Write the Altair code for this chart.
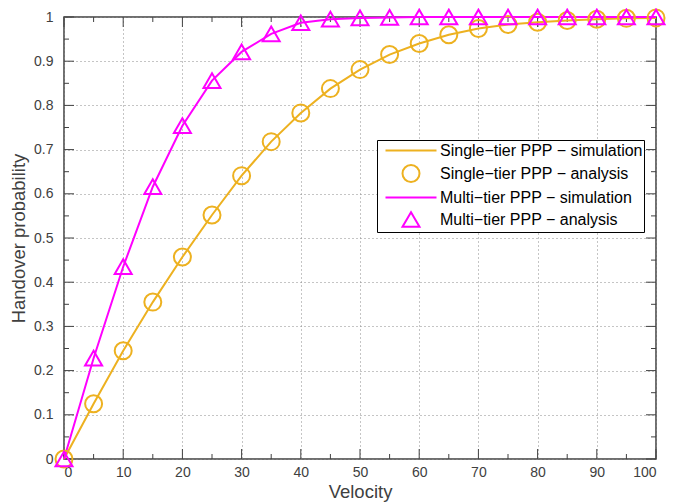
import altair as alt
import pandas as pd

velocity = [0, 5, 10, 15, 20, 25, 30, 35, 40, 45, 50, 55, 60, 65, 70, 75, 80, 85, 90, 95, 100]
single_sim = [0, 0.125, 0.245, 0.355, 0.457, 0.552, 0.641, 0.718, 0.783, 0.838, 0.881,
              0.915, 0.940, 0.960, 0.974, 0.983, 0.988, 0.992, 0.995, 0.997, 0.998]
single_ana = [0, 0.125, 0.245, 0.355, 0.457, 0.552, 0.641, 0.718, 0.783, 0.838, 0.881,
              0.915, 0.940, 0.960, 0.974, 0.983, 0.988, 0.992, 0.995, 0.997, 0.998]
multi_sim = [0, 0.228, 0.435, 0.616, 0.754, 0.856, 0.921, 0.962, 0.987, 0.995, 0.998,
             0.999, 1.0, 1.0, 1.0, 1.0, 1.0, 1.0, 1.0, 1.0, 1.0]
multi_ana = [0, 0.228, 0.435, 0.616, 0.754, 0.856, 0.921, 0.962, 0.987, 0.995, 0.998,
             0.999, 1.0, 1.0, 1.0, 1.0, 1.0, 1.0, 1.0, 1.0, 1.0]

series_names = ["Single\u2212tier PPP \u2212 simulation", "Single\u2212tier PPP \u2212 analysis",
                "Multi\u2212tier PPP \u2212 simulation", "Multi\u2212tier PPP \u2212 analysis"]
x_major = [0, 10, 20, 30, 40, 50, 60, 70, 80, 90, 100]
x_minor = [5, 15, 25, 35, 45, 55, 65, 75, 85, 95]
y_major = [0, 0.1, 0.2, 0.3, 0.4, 0.5, 0.6, 0.7, 0.8, 0.9, 1.0]
y_minor = [0.05, 0.15, 0.25, 0.35, 0.45, 0.55, 0.65, 0.75, 0.85, 0.95]

ORANGE = "#EDB120"
MAGENTA = "#FF00FF"
AXC = "#404040"
FONT = "Liberation Sans"
W, H = 592, 442
MAJ, MIN = 10, 5
LINE_SYMBOL = "M-3,0L3,0"

sim_single = pd.DataFrame({"v": velocity, "p": single_sim})
sim_multi = pd.DataFrame({"v": velocity, "p": multi_sim})
ana = pd.DataFrame({
    "v": velocity + velocity,
    "p": single_ana + multi_ana,
    "series": [series_names[1]] * len(velocity) + [series_names[3]] * len(velocity),
})

xscale = alt.Scale(domain=[0, 100], nice=False, zero=False)
yscale = alt.Scale(domain=[0, 1], nice=False, zero=False)
xaxis = alt.Axis(values=x_major, title="Velocity", grid=True, domain=False, ticks=False,
                 labelPadding=6, titlePadding=3, format="d")
yaxis = alt.Axis(values=y_major, title="Handover probability", grid=True, domain=False,
                 ticks=False, labelPadding=11, titlePadding=5, format=".1~f")

X = alt.X("v:Q", scale=xscale, axis=xaxis)
Y = alt.Y("p:Q", scale=yscale, axis=yaxis)

line_single = alt.Chart(sim_single).mark_line(color=ORANGE, strokeWidth=2).encode(x=X, y=Y)
line_multi = alt.Chart(sim_multi).mark_line(color=MAGENTA, strokeWidth=2).encode(x=X, y=Y)

legend = alt.Legend(title=None, orient="none", legendX=313, legendY=123, fillColor="white",
                    strokeColor="black", padding=1, labelFont=FONT, labelFontSize=16,
                    labelColor="black", symbolStrokeWidth=2, symbolSize=289,
                    rowPadding=2, labelOffset=19.5, symbolOffset=23.5, labelLimit=400)
points = alt.Chart(ana).mark_point(filled=False, strokeWidth=2, opacity=1, size=289).encode(
    x=X, y=Y,
    color=alt.Color("series:N", scale=alt.Scale(domain=series_names,
                                                range=[ORANGE, ORANGE, MAGENTA, MAGENTA]),
                    legend=legend),
    shape=alt.Shape("series:N", scale=alt.Scale(domain=series_names,
                                                range=[LINE_SYMBOL, "circle", LINE_SYMBOL, "triangle-up"]),
                    legend=legend),
)

xmaj = pd.DataFrame({"v": x_major})
xmin = pd.DataFrame({"v": x_minor})
ymaj = pd.DataFrame({"p": y_major})
ymin = pd.DataFrame({"p": y_minor})

def xticks(df, L):
    b = alt.Chart(df).mark_rule(color=AXC, strokeWidth=1).encode(
        x=X, y=alt.value(H), y2=alt.value(H - L))
    t = alt.Chart(df).mark_rule(color=AXC, strokeWidth=1).encode(
        x=X, y=alt.value(0), y2=alt.value(L))
    return [b, t]

def yticks(df, L):
    l = alt.Chart(df).mark_rule(color=AXC, strokeWidth=1).encode(
        y=Y, x=alt.value(0), x2=alt.value(L))
    r = alt.Chart(df).mark_rule(color=AXC, strokeWidth=1).encode(
        y=Y, x=alt.value(W), x2=alt.value(W - L))
    return [l, r]

layers = (xticks(xmaj, MAJ) + xticks(xmin, MIN) + yticks(ymaj, MAJ) + yticks(ymin, MIN)
          + [line_single, line_multi, points])

chart = alt.layer(*layers).properties(
    width=W, height=H,
    background="white",
    autosize=alt.AutoSizeParams(type="none"),
    padding={"left": 56, "top": 9, "right": 20, "bottom": 50},
).configure_view(
    stroke=AXC, strokeWidth=1.5
).configure_axis(
    labelFont=FONT, labelFontSize=14, labelColor=AXC, titleFont=FONT, titleFontSize=18.5,
    titleColor=AXC, titleFontWeight="normal", gridColor="#8a8a8a", gridDash=[1, 3],
    gridOpacity=1, gridWidth=1
)

chart.save("out.html", embed_options={"renderer": "svg", "actions": False})
